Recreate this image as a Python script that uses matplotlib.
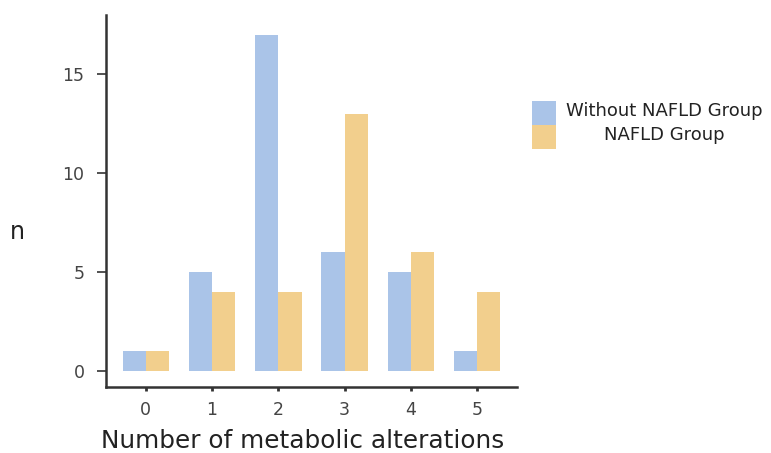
import matplotlib.pyplot as plt
import numpy as np
from matplotlib.patches import Rectangle

categories = [0, 1, 2, 3, 4, 5]
without_nafld = [1, 5, 17, 6, 5, 1]
nafld = [1, 4, 4, 13, 6, 4]
labels = ["Without NAFLD Group", "NAFLD Group"]
colors = ["#aac4e8", "#f2cf8d"]

plt.rcParams['font.family'] = ['DejaVu Sans']

fig = plt.figure(figsize=(7.71, 4.53), dpi=100)
ax = fig.add_axes([0.1375, 0.1457, 0.5331, 0.8212])

x = np.arange(len(categories))
w = 0.35
ax.bar(x - w / 2, without_nafld, w, color=colors[0])
ax.bar(x + w / 2, nafld, w, color=colors[1])

ax.set_xlim(-0.6, 5.6)
ax.set_ylim(-0.8, 18.0)
ax.set_xticks(x)
ax.set_xticklabels([str(c) for c in categories])
ax.set_yticks([0, 5, 10, 15])

for s in ['top', 'right']:
    ax.spines[s].set_visible(False)
for s in ['left', 'bottom']:
    ax.spines[s].set_color('#333333')
    ax.spines[s].set_linewidth(1.8)

ax.tick_params(axis='y', length=6.5, width=1.2, color='#333333', labelsize=12.5,
               labelcolor='#444444', pad=9)
ax.tick_params(axis='x', length=3, width=2, color='#333333', labelsize=12.5,
               labelcolor='#444444', pad=7)

W, H = 771, 453
fig.text(303 / W, 1 - 441 / H, "Number of metabolic alterations", fontsize=17.8,
         color='#222222', ha='center', va='center')
fig.text(10 / W, 1 - 232 / H, "n", fontsize=17, color='#222222', ha='left', va='center')

# legend
for i, (lab, c) in enumerate(zip(labels, colors)):
    y0 = 101 + 24 * i
    fig.add_artist(Rectangle((532 / W, 1 - (y0 + 24) / H), 24 / W, 24 / H,
                             transform=fig.transFigure, color=c, lw=0))
    fig.text(664 / W, 1 - (y0 + 10) / H, lab, fontsize=13, color='#222222',
             ha='center', va='center')

fig.savefig("out.png", dpi=100)
